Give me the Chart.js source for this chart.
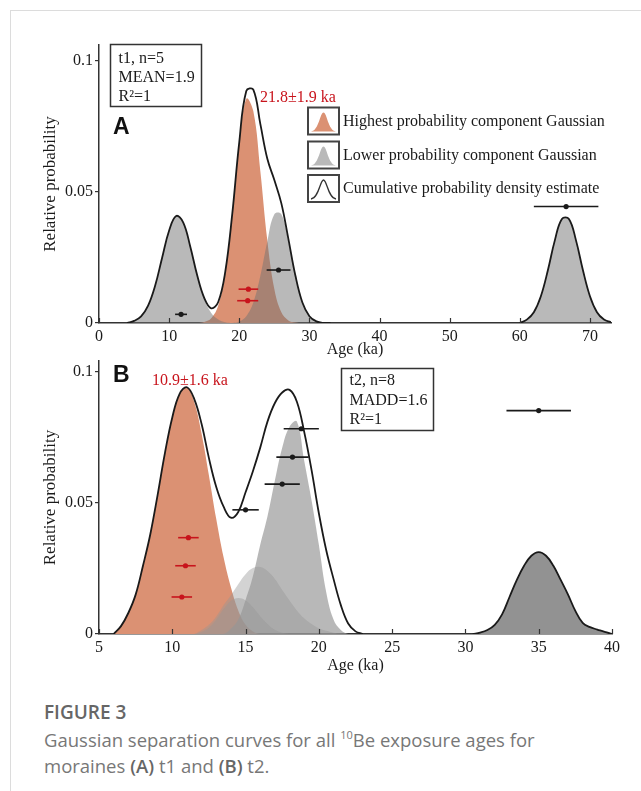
<!DOCTYPE html>
<html>
<head>
<meta charset="utf-8">
<script src="https://cdn.jsdelivr.net/npm/chart.js@4.4.0/dist/chart.umd.min.js"></script>
<style>
  body { margin: 0; background: #fff; width: 641px; height: 791px; overflow: hidden; position: relative; }
  #frame { position: absolute; left: 10px; top: 10px; width: 640px; height: 790px; border-left: 1px solid #dcdcdc; border-top: 1px solid #dcdcdc; }
  #chartA { position: absolute; left: 0; top: 0; }
  #chartB { position: absolute; left: 0; top: 340px; }
  #figno { position: absolute; left: 44px; top: 699px; font: 600 19px "Open Sans", sans-serif; color: #666; }
  #figcap { position: absolute; left: 44px; top: 727px; font: 18.5px/26px "Open Sans", sans-serif; color: #777; }
  #figcap b { font-weight: 600; color: #666; }
  #figcap sup { font-size: 11px; vertical-align: 8px; line-height: 0; }
</style>
</head>
<body>
<div id="frame"></div>
<canvas id="chartA" width="641" height="360"></canvas>
<canvas id="chartB" width="641" height="345"></canvas>
<div id="figno">FIGURE 3</div>
<div id="figcap">Gaussian separation curves for all <sup>10</sup>Be exposure ages for<br>moraines <b>(A)</b> t1 and <b>(B)</b> t2.</div>

<script>
// ---- panel A (t1) ----
var ageA = [4, 5, 6, 7, 8, 9, 10, 11, 12, 13, 14, 15, 16, 17, 18, 19, 20, 21, 22, 23, 24, 25, 26, 27, 28, 29, 30, 31, 32, 33];
var grayA1 = [0, .0008, .0025, .0066, .0142, .0249, .0353, .0408, .0384, .0293, .0182, .0092, .0038, .0013, .0003, 0, 0, 0, 0, 0, 0, 0, 0, 0, 0, 0, 0, 0, 0, 0];
var orangeA = [0, 0, 0, 0, 0, 0, 0, 0, 0, 0, 0, .0004, .0018, .0067, .0191, .0415, .0684, .0855, .0808, .058, .0315, .013, .0041, .001, .0002, 0, 0, 0, 0, 0];
var grayA2 = [0, 0, 0, 0, 0, 0, 0, 0, 0, 0, 0, 0, 0, 0, 0, 0, .0006, .0026, .0078, .0179, .0311, .0415, .0415, .0311, .0179, .0078, .0026, .0006, 0, 0];
var cpdA = [0, .0008, .0025, .0066, .0142, .0249, .0353, .0408, .0384, .0293, .0182, .0096, .0056, .008, .0195, .0416, .069, .0885, .089, .0759, .0626, .0545, .0456, .0321, .0181, .0078, .0026, .0006, 0, 0];
var ageA66 = [60, 61, 62, 63, 64, 65, 66, 67, 68, 69, 70, 71, 72, 73];
var grayA3 = [0, .0013, .0041, .0102, .0201, .0316, .0397, .0397, .0316, .0201, .0102, .0041, .0013, .0003];

var redAgeA = [21.3, 21.2];
var redErrA = [1.4, 1.5];
var redProbA = [.0129, .0085];
var blackAgeA = [11.7, 25.6, 66.6];
var blackErrA = [0.85, 1.7, 4.6];
var blackProbA = [.0033, .0202, .0444];

var xTicksA = [0, 10, 20, 30, 40, 50, 60, 70];

// ---- panel B (t2) ----
var ageB = [6, 6.5, 7, 7.5, 8, 8.5, 9, 9.5, 10, 10.5, 11, 11.5, 12, 12.5, 13, 13.5, 14, 14.5, 15, 15.5, 16, 16.5, 17, 17.5, 18, 18.5, 19, 19.5, 20, 20.5, 21, 21.5, 22, 22.5, 23];
var orangeB = [0, .003, .008, .015, .026, .038, .053, .069, .0825, .0915, .094, .0883, .0763, .0604, .0438, .0292, .0178, .009, .0035, .001, 0, 0, 0, 0, 0, 0, 0, 0, 0, 0, 0, 0, 0, 0, 0];
var grayB1 = [0, 0, 0, 0, 0, 0, 0, 0, 0, 0, 0, 0, 0, 0, 0, 0, .002, .0055, .013, .022, .034, .045, .0585, .071, .079, .081, .066, .051, .034, .016, .0055, .0015, 0, 0, 0];
var grayB2 = [0, 0, 0, 0, 0, 0, 0, 0, 0, 0, 0, 0, .0015, .0035, .0067, .011, .0148, .019, .0228, .0251, .0255, .024, .021, .0168, .0128, .009, .006, .0038, .0022, .0012, .0005, .0001, 0, 0, 0];
var grayB3 = [0, 0, 0, 0, 0, 0, 0, 0, 0, 0, 0, 0, .0008, .0025, .0055, .0095, .0127, .0137, .0128, .0102, .0068, .0038, .0016, .0005, 0, 0, 0, 0, 0, 0, 0, 0, 0, 0, 0];
var cpdB = [0, .003, .008, .015, .026, .038, .053, .069, .0825, .0915, .094, .0895, .08, .067, .056, .0485, .0443, .0465, .054, .062, .071, .081, .088, .092, .093, .0885, .077, .0625, .046, .032, .021, .011, .004, .001, 0];
var ageB35 = [30.5, 31, 31.5, 32, 32.5, 33, 33.5, 34, 34.5, 35, 35.5, 36, 36.5, 37, 37.5, 38, 38.5, 39, 39.5, 40];
var grayB35 = [0, .0005, .0015, .0035, .0075, .014, .0205, .026, .0298, .0312, .0298, .026, .0206, .015, .0088, .0042, .0026, .0017, .0008, 0];

var redAgeB = [11.1, 10.9, 10.65];
var redErrB = [0.7, 0.7, 0.7];
var redProbB = [.0367, .026, .0141];
var blackAgeB = [15.0, 17.5, 18.2, 18.8, 35.0];
var blackErrB = [0.9, 1.2, 1.1, 1.2, 2.2];
var blackProbB = [.0473, .0571, .0674, .0782, .0851];

var xTicksB = [5, 10, 15, 20, 25, 30, 35, 40];

var yTicks = [0, 0.05, 0.1];
var yTickLabels = ['0', '0.05', '0.1'];

// ---- helpers ----
var SERIF = '"Liberation Serif", "Times New Roman", serif';
var ORANGE = 'rgb(219,145,115)';
var INK = '#1a1a1a';
var RED = '#c8141c';

function pts(xs, ys) {
  return xs.map(function (x, i) { return { x: x, y: ys[i] }; });
}

function area(xs, ys, color, order) {
  return {
    type: 'line', data: pts(xs, ys), fill: 'origin', backgroundColor: color,
    borderWidth: 0, pointRadius: 0, tension: 0.4, order: order
  };
}

function outline(xs, ys, order) {
  return {
    type: 'line', data: pts(xs, ys), fill: false, borderColor: INK,
    borderWidth: 1.8, pointRadius: 0, tension: 0.4, order: order
  };
}

function errorBars(ages, errs, probs, color) {
  var sets = ages.map(function (a, i) {
    return {
      type: 'line', data: [{ x: a - errs[i], y: probs[i] }, { x: a + errs[i], y: probs[i] }],
      borderColor: color, borderWidth: 1.6, pointRadius: 0, fill: false, order: 1
    };
  });
  sets.push({
    type: 'scatter', data: pts(ages, probs), pointRadius: 2.6, pointBorderWidth: 0,
    pointBackgroundColor: color, order: 0
  });
  return sets;
}

var inwardTicks = {
  id: 'inwardTicks',
  afterDraw: function (chart) {
    var ctx = chart.ctx, xs = chart.scales.x, bottom = chart.chartArea.bottom;
    ctx.save();
    ctx.strokeStyle = '#333';
    ctx.lineWidth = 1.2;
    xs.ticks.forEach(function (t) {
      var px = Math.round(xs.getPixelForValue(t.value)) + 0.5;
      ctx.beginPath();
      ctx.moveTo(px, bottom);
      ctx.lineTo(px, bottom - 5);
      ctx.stroke();
    });
    ctx.restore();
  }
};

function statBox(ctx, x, y, w, h, lines, baselines) {
  ctx.strokeStyle = '#333';
  ctx.lineWidth = 1.5;
  ctx.strokeRect(x, y, w, h);
  ctx.fillStyle = INK;
  ctx.font = '16px ' + SERIF;
  ctx.textAlign = 'left';
  ctx.textBaseline = 'alphabetic';
  lines.forEach(function (s, i) { ctx.fillText(s, x + 8, baselines[i]); });
}

function bell(ctx, x, y, w, h, fill) {
  var bx = x + 3, by = y + h - 3, bw = w - 6, bh = h - 8;
  ctx.beginPath();
  ctx.moveTo(bx, by);
  ctx.bezierCurveTo(bx + bw * 0.32, by - 1, bx + bw * 0.36, by - bh, bx + bw / 2, by - bh);
  ctx.bezierCurveTo(bx + bw * 0.64, by - bh, bx + bw * 0.68, by - 1, bx + bw, by);
  if (fill) {
    ctx.closePath();
    ctx.fillStyle = fill;
    ctx.fill();
  } else {
    ctx.strokeStyle = '#333';
    ctx.lineWidth = 1.3;
    ctx.stroke();
  }
}

function legendItem(ctx, y, fill, label) {
  ctx.fillStyle = '#fff';
  ctx.fillRect(308, y, 31, 27);
  bell(ctx, 308, y, 31, 27, fill);
  ctx.strokeStyle = '#444';
  ctx.lineWidth = 2;
  ctx.strokeRect(308, y, 31, 27);
  ctx.fillStyle = INK;
  ctx.font = '16px ' + SERIF;
  ctx.textAlign = 'left';
  ctx.textBaseline = 'middle';
  ctx.fillText(label, 343, y + 14);
}

var textsA = {
  id: 'textsA',
  afterDraw: function (chart) {
    var ctx = chart.ctx;
    ctx.save();
    statBox(ctx, 110.5, 44.5, 91, 62, ['t1, n=5', 'MEAN=1.9', 'R\u00b2=1'], [63, 82, 101]);
    ctx.font = 'bold 23px "Liberation Sans", Arial, sans-serif';
    ctx.fillStyle = '#111';
    ctx.fillText('A', 113, 134);
    ctx.font = '16px ' + SERIF;
    ctx.fillStyle = RED;
    ctx.fillText('21.8\u00b11.9 ka', 260, 102);
    legendItem(ctx, 107.5, ORANGE, 'Highest probability component Gaussian');
    legendItem(ctx, 141.5, '#b9b9b9', 'Lower probability component Gaussian');
    legendItem(ctx, 175, null, 'Cumulative probability density estimate');
    ctx.restore();
  }
};

var textsB = {
  id: 'textsB',
  afterDraw: function (chart) {
    var ctx = chart.ctx;
    ctx.save();
    statBox(ctx, 341.5, 28.5, 92, 62, ['t2, n=8', 'MADD=1.6', 'R\u00b2=1'], [45, 65, 84]);
    ctx.font = 'bold 23px "Liberation Sans", Arial, sans-serif';
    ctx.fillStyle = '#111';
    ctx.fillText('B', 113, 42);
    ctx.font = '16px ' + SERIF;
    ctx.fillStyle = RED;
    ctx.fillText('10.9\u00b11.6 ka', 152, 45);
    ctx.restore();
  }
};

function axes(xMin, xMax, xTicks, yMax, xHeight, titlePad) {
  return {
    x: {
      type: 'linear', min: xMin, max: xMax,
      afterBuildTicks: function (s) { s.ticks = xTicks.map(function (v) { return { value: v }; }); },
      afterFit: function (s) { s.height = xHeight; },
      grid: { display: false, drawTicks: false },
      border: { display: true, color: '#333', width: 1.5 },
      ticks: { padding: 4, color: INK, font: { family: SERIF, size: 16 }, maxRotation: 0 },
      title: { display: true, text: 'Age (ka)', color: INK, font: { family: SERIF, size: 16 }, padding: { top: 0, bottom: titlePad } }
    },
    y: {
      type: 'linear', min: 0, max: yMax,
      afterBuildTicks: function (s) { s.ticks = yTicks.map(function (v) { return { value: v }; }); },
      afterFit: function (s) { s.width = 99; },
      grid: { drawOnChartArea: false, drawTicks: true, tickLength: 4, color: '#333', lineWidth: 1.2 },
      border: { display: true, color: '#333', width: 1.5 },
      ticks: {
        padding: 2, color: INK, font: { family: SERIF, size: 16 },
        callback: function (v) { return yTickLabels[yTicks.indexOf(v)]; }
      },
      title: { display: true, text: 'Relative probability', color: INK, font: { family: SERIF, size: 17 }, padding: { top: 40, bottom: 0 } }
    }
  };
}

var commonPlugins = {
  legend: { display: false },
  tooltip: { enabled: false }
};

new Chart(document.getElementById('chartA'), {
  type: 'line',
  data: {
    datasets: [
      area(ageA, orangeA, ORANGE, 7),
      area(ageA, grayA1, 'rgba(115,115,115,0.5)', 6),
      area(ageA, grayA2, 'rgba(115,115,115,0.5)', 5),
      area(ageA66, grayA3, 'rgba(115,115,115,0.5)', 4),
      outline(ageA, cpdA, 2),
      outline(ageA66, grayA3, 2)
    ].concat(errorBars(redAgeA, redErrA, redProbA, RED), errorBars(blackAgeA, blackErrA, blackProbA, INK))
  },
  options: {
    responsive: false, animation: false,
    layout: { padding: { left: 0, right: 30, top: 45, bottom: 0 } },
    scales: axes(0, 73, xTicksA, 0.106, 37, 1),
    plugins: commonPlugins
  },
  plugins: [inwardTicks, textsA]
});

new Chart(document.getElementById('chartB'), {
  type: 'line',
  data: {
    datasets: [
      area(ageB, orangeB, ORANGE, 8),
      area(ageB, grayB1, 'rgba(150,150,150,0.68)', 7),
      area(ageB, grayB2, 'rgba(150,150,150,0.42)', 6),
      area(ageB, grayB3, 'rgba(150,150,150,0.42)', 5),
      area(ageB35, grayB35, 'rgb(146,146,146)', 4),
      outline(ageB, cpdB, 2),
      outline(ageB35, grayB35, 2)
    ].concat(errorBars(redAgeB, redErrB, redProbB, RED), errorBars(blackAgeB, blackErrB, blackProbB, INK))
  },
  options: {
    responsive: false, animation: false,
    layout: { padding: { left: 0, right: 29, top: 21, bottom: 0 } },
    scales: axes(5, 40, xTicksB, 0.104, 51, 10),
    plugins: commonPlugins
  },
  plugins: [inwardTicks, textsB]
});
</script>
</body>
</html>
